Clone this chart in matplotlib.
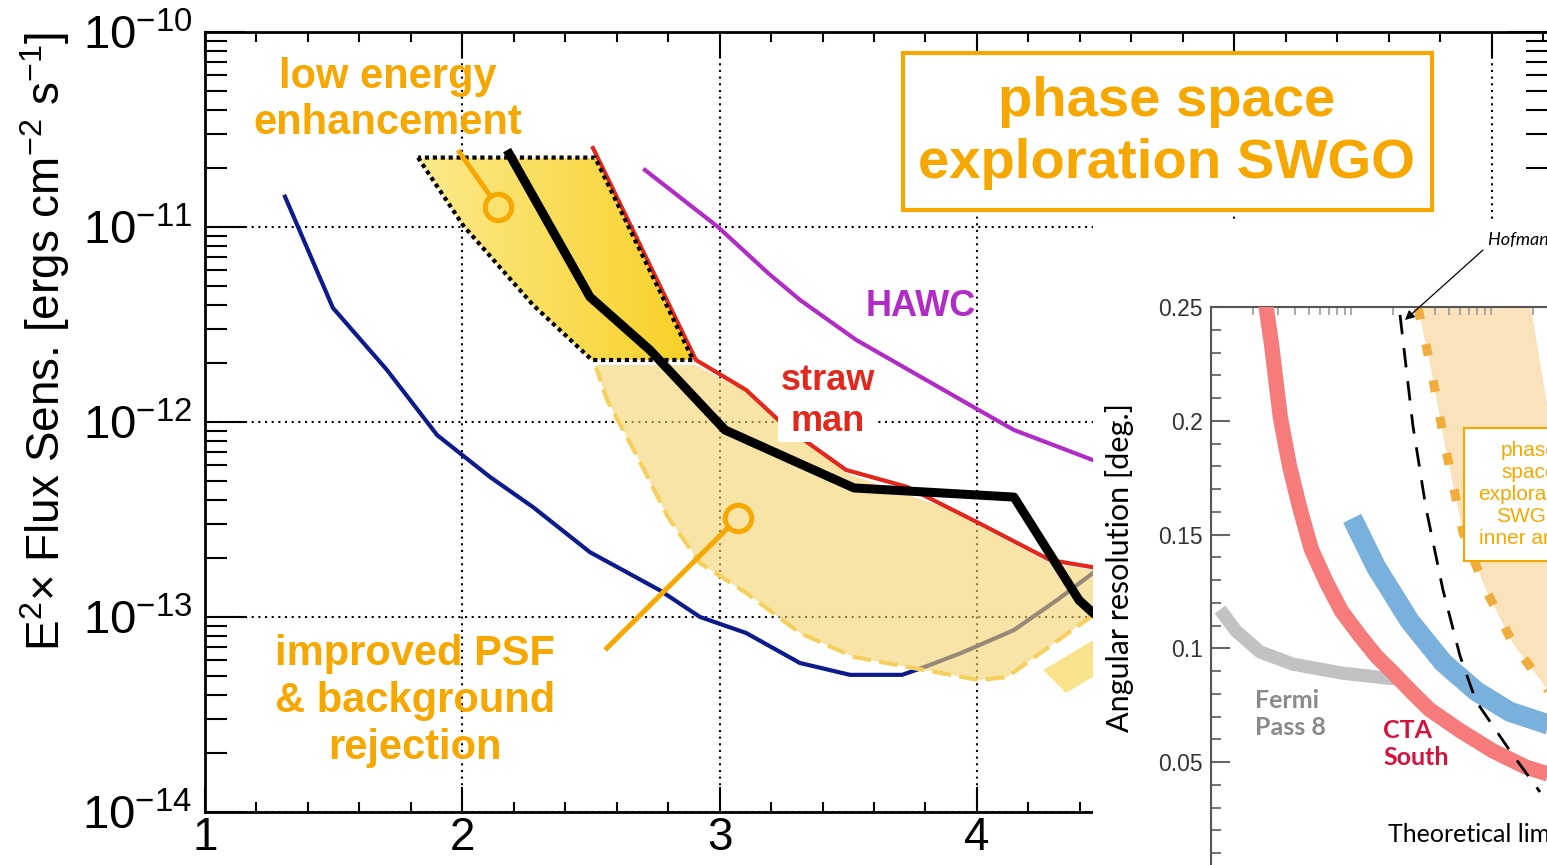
import numpy as np
import matplotlib
matplotlib.use("Agg")
import matplotlib.pyplot as plt
from matplotlib.colors import LinearSegmentedColormap
from matplotlib.patches import Polygon, Rectangle
from matplotlib.ticker import MultipleLocator, FixedLocator, LogLocator

plt.rcParams["font.family"] = ["Liberation Sans", "DejaVu Sans"]
plt.rcParams["mathtext.fontset"] = "custom"
plt.rcParams["mathtext.rm"] = "Liberation Sans"
plt.rcParams["mathtext.it"] = "Liberation Sans:italic"
plt.rcParams["mathtext.bf"] = "Liberation Sans:bold"

# ---- main panel: E^2 x flux sensitivity vs log10(E/GeV) ----
xtick_vals = [1, 2, 3, 4, 5, 6]
xtick_labels = ["1", "2", "3", "4", "5", "6"]

blue_x = [1.311, 1.497, 1.707, 1.902, 2.108, 2.275, 2.496, 2.768, 2.924, 3.103,
          3.312, 3.507, 3.709, 3.798, 3.938, 4.144, 4.311, 4.451, 4.6]
blue_y = [1.43e-11, 3.85e-12, 1.85e-12, 8.57e-13, 5.22e-13, 3.66e-13, 2.15e-13,
          1.37e-13, 1.0e-13, 8.28e-14, 5.81e-14, 5.05e-14, 5.05e-14, 5.55e-14,
          6.53e-14, 8.57e-14, 1.22e-13, 1.68e-13, 2.24e-13]

hawc_x = [2.710, 2.994, 3.188, 3.312, 3.530, 4.008, 4.144, 4.451, 4.6]
hawc_y = [1.96e-11, 1.0e-11, 5.81e-12, 4.23e-12, 2.64e-12, 1.15e-12, 9.1e-13,
          6.38e-13, 5.4e-13]

straw_x = [2.508, 2.908, 3.103, 3.258, 3.491, 3.728, 4.008, 4.284, 4.451, 4.6]
straw_y = [2.54e-11, 2.08e-12, 1.46e-12, 9.42e-13, 5.68e-13, 4.65e-13, 3.03e-13,
           1.96e-13, 1.80e-13, 1.74e-13]

swgo_x = [2.174, 2.496, 2.729, 3.021, 3.522, 4.144, 4.397, 4.451, 4.6]
swgo_y = [2.48e-11, 4.38e-12, 2.34e-12, 9.1e-13, 4.59e-13, 4.12e-13, 1.22e-13,
          1.05e-13, 7.9e-14]

low_e_x = [1.828, 2.003, 2.275, 2.504, 2.897, 2.516]
low_e_y = [2.27e-11, 1.02e-11, 3.98e-12, 2.08e-12, 2.08e-12, 2.27e-11]

psf_top_x = [2.520, 2.908, 3.103, 3.243, 3.491, 3.868, 4.284, 4.451, 4.5]
psf_top_y = [1.96e-12, 1.96e-12, 1.43e-12, 1.02e-12, 5.47e-13, 3.66e-13, 1.89e-13,
             1.74e-13, 1.68e-13]
psf_low_x = [4.5, 4.451, 4.117, 4.008, 3.728, 3.522, 3.312, 3.103, 2.924, 2.799,
             2.687, 2.562, 2.520]
psf_low_y = [9.0e-14, 1.02e-13, 4.92e-14, 4.75e-14, 5.55e-14, 6.24e-14, 8.28e-14,
             1.33e-13, 1.89e-13, 3.26e-13, 6.38e-13, 1.30e-12, 1.91e-12]
psf_piece_x = [4.257, 4.347, 4.5, 4.5]
psf_piece_y = [5.34e-14, 4.07e-14, 5.4e-14, 8.3e-14]

callout_low_x = [1.983, 2.110]
callout_low_y = [2.48e-11, 1.435e-11]
ring_low = (2.139, 1.27e-11)
callout_psf_x = [2.555, 3.035]
callout_psf_y = [6.78e-14, 2.89e-13]
ring_psf = (3.071, 3.22e-13)

# ---- inset: angular resolution vs energy ----
inset_yticks = [0.05, 0.1, 0.15, 0.2, 0.25]
inset_ylabels = ["0.05", "0.1", "0.15", "0.2", "0.25"]

cta_x = [2.33, 2.48, 2.70, 2.93, 3.13, 3.65, 4.31, 5.21, 6.66, 8.53, 11.54, 15.18,
         19.95, 27.7, 36.5, 59.8, 103, 178.6, 251, 400]
cta_y = [0.26, 0.2496, 0.234, 0.2159, 0.2014, 0.1797, 0.1616, 0.1435, 0.1291,
         0.1164, 0.1056, 0.0965, 0.0893, 0.0802, 0.0730, 0.0639, 0.0549, 0.0477,
         0.0449, 0.041]
band_x = [10.2, 15.2, 26.3, 45.4, 78.5, 136, 251, 400]
band_y = [0.1571, 0.1354, 0.1119, 0.0938, 0.0811, 0.0721, 0.0667, 0.064]
fermi_x = [1.16, 1.51, 2.24, 3.85, 8.77, 21.0]
fermi_y = [0.117, 0.1076, 0.0984, 0.093, 0.089, 0.0865]
limit_x = [22.4, 27.7, 34.3, 45.4, 60.1, 78.1, 137, 224]
limit_y = [0.2465, 0.1977, 0.1617, 0.1256, 0.0966, 0.0768, 0.0548, 0.0368]
inner_x = [30.1, 36.7, 47.7, 63.1, 92.1, 144, 251, 400]
inner_y = [0.2496, 0.225, 0.187, 0.1507, 0.1256, 0.1019, 0.0821, 0.07]
outer_x = [600, 330, 251, 193]
outer_y = [0.12, 0.17, 0.207, 0.25]

W, H = 1547, 865
ORANGE = "#f6a800"


def fx(px):
    return px / W


def fy(py):
    return 1 - py / H


fig = plt.figure(figsize=(W / 100, H / 100), dpi=100)

ax = fig.add_axes([fx(205), fy(812), (1548 - 205) / W, (812 - 32) / H], zorder=0)
ax.set_yscale("log")

ax.plot(blue_x, blue_y, color="#0d1a8c", lw=3, zorder=1.8)

psf_x = psf_top_x + psf_low_x
psf_y = psf_top_y + psf_low_y
ax.fill(psf_x, psf_y, color="#f5d36c", alpha=0.6, lw=0, zorder=2)
ax.fill(psf_piece_x, psf_piece_y, color="#f8dc70", alpha=0.8, lw=0, zorder=2)
ax.plot(psf_low_x[1:], psf_low_y[1:], color="#f5d05c", lw=3,
        linestyle=(0, (4.5, 2)), zorder=2.2)

cmap_gold = LinearSegmentedColormap.from_list("gold", ["#fce98c", "#f8d126"])
grad = np.linspace(0, 1, 256).reshape(1, -1)
img = ax.imshow(grad, extent=[min(low_e_x), max(low_e_x), min(low_e_y), max(low_e_y)],
                aspect="auto", cmap=cmap_gold, origin="lower", zorder=2.5,
                interpolation="bilinear")
clip = Polygon(np.column_stack([low_e_x, low_e_y]), closed=True,
               facecolor="none", edgecolor="none")
ax.add_patch(clip)
img.set_clip_path(clip)
ax.plot(low_e_x + low_e_x[:1], low_e_y + low_e_y[:1], color="black", lw=3,
        linestyle=(0, (1, 0.9)), zorder=4)

ax.plot(hawc_x, hawc_y, color="#b12cc6", lw=3, zorder=3)
ax.plot(straw_x, straw_y, color="#e2281c", lw=3, zorder=3.5)
ax.plot(swgo_x, swgo_y, color="black", lw=6.5, zorder=5, solid_capstyle="butt")

for lx, ly, ring in [(callout_low_x, callout_low_y, ring_low),
                     (callout_psf_x, callout_psf_y, ring_psf)]:
    ax.plot(lx, ly, color=ORANGE, lw=3.6, solid_capstyle="butt", zorder=6)
    ax.plot([ring[0]], [ring[1]], marker="o", ms=19, mfc="none", mec=ORANGE,
            mew=3.6, zorder=6)

ax.text(fx(388), fy(100), "low energy\nenhancement", transform=fig.transFigure,
        ha="center", va="center", fontsize=30, fontweight="bold", color=ORANGE,
        linespacing=1.22, zorder=7)
ax.text(fx(415), fy(701), "improved PSF\n& background\nrejection",
        transform=fig.transFigure, ha="center", va="center", fontsize=30,
        fontweight="bold", color=ORANGE, linespacing=1.24, zorder=7)
ax.text(fx(921), fy(307), "HAWC", transform=fig.transFigure, ha="center",
        va="center", fontsize=26, fontweight="bold", color="#b12cc6", zorder=7)
ax.text(fx(828), fy(401), "straw\nman", transform=fig.transFigure, ha="center",
        va="center", fontsize=26, fontweight="bold", color="#e2281c",
        linespacing=1.2, zorder=7,
        bbox=dict(facecolor="white", edgecolor="none", pad=2))

ax.add_patch(Rectangle((fx(903), fy(210)), (1432 - 903) / W, (210 - 53) / H,
                       transform=fig.transFigure, facecolor="white",
                       edgecolor=ORANGE, lw=3, clip_on=False, zorder=8))
ax.text(fx(1167), fy(133), "phase space\nexploration SWGO",
        transform=fig.transFigure, ha="center", va="center", fontsize=40.5,
        fontweight="bold", color=ORANGE, linespacing=1.23, zorder=9)

ax.set_xlim(1, 1 + (1548 - 205) / 257.3)
ax.set_ylim(1e-14, 1e-10)
ax.set_xticks(xtick_vals, labels=xtick_labels)
ax.xaxis.set_minor_locator(MultipleLocator(0.2))
ax.yaxis.set_major_locator(LogLocator(base=10))
ax.yaxis.set_minor_locator(LogLocator(base=10, subs=np.arange(2, 10)))
ax.tick_params(which="both", direction="in", top=True, right=True, width=1.5,
               color="black")
ax.tick_params(axis="x", which="major", length=18, labelsize=33, pad=3)
ax.tick_params(axis="x", which="minor", length=7)
ax.tick_params(axis="y", which="major", length=29, labelsize=34, pad=9)
ax.tick_params(axis="y", which="minor", length=16)
ax.grid(True, which="major", color="black", linestyle=(0, (1, 2.2)), lw=1.5)
ax.set_axisbelow(True)
for s in ax.spines.values():
    s.set_linewidth(2)

fig.text(fx(45), fy(342), r"E$^2$× Flux Sens. [ergs cm$^{-2}$ s$^{-1}$]",
         rotation=90, ha="center", va="center", fontsize=33)

# white panel holding the inset
fig.add_artist(Rectangle((fx(1093), 0), (W - 1093) / W, (H - 220) / H,
                         transform=fig.transFigure, facecolor="white",
                         edgecolor="none", zorder=1))

ax2 = fig.add_axes([fx(1211), fy(875.75), (1600 - 1211) / W, (875.75 - 307) / H],
                   zorder=2)
ax2.set_facecolor("none")
ax2.set_xscale("log")

ax2.fill(inner_x + outer_x, inner_y + outer_y, color="#fae3bb", lw=0, zorder=1)
ax2.plot(inner_x, inner_y, color="#f0ad3c", lw=6.5, linestyle=(0, (1.3, 2.8)),
         dash_capstyle="butt", zorder=2)
ax2.plot(fermi_x, fermi_y, color="#c2c2c2", lw=9.5, solid_capstyle="butt", zorder=3)
ax2.plot(cta_x, cta_y, color="#f67c7c", lw=11, solid_capstyle="butt", zorder=3)
ax2.plot(band_x, band_y, color="#79b0dc", lw=14.5, solid_capstyle="butt", zorder=3)
ax2.plot(limit_x, limit_y, color="black", lw=2, linestyle=(0, (7, 5)), zorder=4)

ax2.set_xlim(1, 10 ** ((1600 - 1211) / 140))
ax2.set_ylim(0, 0.25)
ax2.yaxis.set_major_locator(FixedLocator(inset_yticks))
ax2.set_yticklabels(inset_ylabels)
ax2.yaxis.set_minor_locator(MultipleLocator(0.01))
ax2.tick_params(axis="y", which="major", direction="in", length=14, width=1.5,
                color="#666666", labelsize=16.5, labelcolor="#333333", pad=6)
ax2.tick_params(axis="y", which="minor", direction="in", length=7, width=1.5,
                color="#777777")
ax2.tick_params(axis="x", which="both", direction="in", top=True, bottom=False,
                labelbottom=False, color="#999999", length=6, width=1.2)
for side in ["right", "bottom"]:
    ax2.spines[side].set_visible(False)
for side in ["left", "top"]:
    ax2.spines[side].set_color("#555555")
    ax2.spines[side].set_linewidth(1.5)

ax2.add_patch(Rectangle((fx(1464), fy(561)), (1600 - 1464) / W, (561 - 428) / H,
                        transform=fig.transFigure, facecolor="white",
                        edgecolor=ORANGE, lw=1.5, clip_on=False, zorder=6))
ax2.text(fx(1529), fy(495), "phase\nspace\nexploration\nSWGO\ninner array",
         transform=fig.transFigure, ha="center", va="center", fontsize=15,
         color=ORANGE, linespacing=1.2, zorder=7)

ax2.annotate("", xy=(fx(1405), fy(320)), xycoords="figure fraction",
             xytext=(fx(1483), fy(250)), textcoords="figure fraction",
             arrowprops=dict(arrowstyle="-|>", color="black", lw=0.9,
                             shrinkA=0, shrinkB=0, mutation_scale=14),
             annotation_clip=False, zorder=8)

fig.text(fx(1488), fy(240), "Hofmann limit", ha="left", va="center", fontsize=13,
         style="italic", family="Lato", zorder=3)
fig.text(fx(1120), fy(567), "Angular resolution [deg.]", rotation=90,
         ha="center", va="center", fontsize=22, family="Lato", zorder=3)
fig.text(fx(1255), fy(714), "Fermi\nPass 8", ha="left", va="center", fontsize=18,
         fontweight="bold", color="#8a8a8a", family="Lato", linespacing=1.2,
         zorder=3)
fig.text(fx(1383), fy(744), "CTA\nSouth", ha="left", va="center", fontsize=18,
         fontweight="bold", color="#d3133e", family="Lato", linespacing=1.2,
         zorder=3)
fig.text(fx(1388), fy(835), "Theoretical limit", ha="left", va="center",
         fontsize=18, family="Lato", zorder=3)

fig.savefig("out.png", dpi=100)
